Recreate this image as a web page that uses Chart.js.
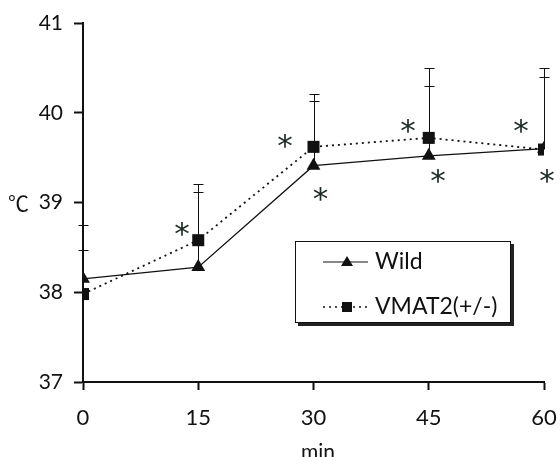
<!DOCTYPE html>
<html>
<head>
<meta charset="utf-8">
<script src="https://cdn.jsdelivr.net/npm/chart.js@4"></script>
<style>
html, body { margin: 0; padding: 0; background: #fff; }
#wrap { width: 560px; height: 457px; }
</style>
</head>
<body>
<div id="wrap"><canvas id="c"></canvas></div>
<script>
// values (body temperature, degC, vs minutes)
const minutes = [0, 15, 30, 45, 60];
const wild = [38.15, 38.28, 39.41, 39.52, 39.6];
const vmat2 = [37.98, 38.58, 39.62, 39.72, 39.59];
// upper ends of the error bars (mean + SD)
const wildTop = [38.75, 39.12, 40.13, 40.30, 40.40];
const vmat2Top = [38.47, 39.21, 40.21, 40.50, 40.50];
// significance marks
const starX = [12.9, 26.3, 30.9, 42.3, 46.2, 57.0, 60.4];
const starY = [38.71, 39.68, 39.10, 39.85, 39.29, 39.85, 39.29];
const xTicks = [0, 15, 30, 45, 60];
const yTicks = [37, 38, 39, 40, 41];

const FONT = 'Lato';

const errorBars = {
    id: 'errorBars',
    beforeDatasetsDraw(chart) {
        const { ctx, scales: { x, y } } = chart;
        ctx.save();
        ctx.strokeStyle = '#111';
        ctx.lineWidth = 1;
        [[wild, wildTop], [vmat2, vmat2Top]].forEach(([mean, top]) => {
            minutes.forEach((m, i) => {
                const px = Math.round(x.getPixelForValue(m)) + 0.5;
                const y0 = y.getPixelForValue(mean[i]);
                const y1 = Math.round(y.getPixelForValue(top[i])) + 0.5;
                ctx.beginPath();
                ctx.moveTo(px, y0);
                ctx.lineTo(px, y1);
                ctx.moveTo(px - 5, y1);
                ctx.lineTo(px + 5, y1);
                ctx.stroke();
            });
        });
        ctx.restore();
    },
};

const extras = {
    id: 'extras',
    afterDraw(chart) {
        const { ctx, scales: { x, y } } = chart;
        ctx.save();

        // asterisks
        ctx.fillStyle = '#1e2b24';
        ctx.font = '31px "DejaVu Sans"';
        ctx.textAlign = 'center';
        ctx.textBaseline = 'alphabetic';
        const m = ctx.measureText('*');
        const off = (m.actualBoundingBoxAscent - m.actualBoundingBoxDescent) / 2;
        starX.forEach((sx, i) => {
            ctx.fillText('*', x.getPixelForValue(sx), y.getPixelForValue(starY[i]) + off);
        });

        // axis titles
        ctx.fillStyle = '#111';
        ctx.font = '21px "Noto Sans CJK JP"';
        ctx.textAlign = 'left';
        ctx.textBaseline = 'middle';
        ctx.fillText('℃', 8, y.getPixelForValue(39) + 1);
        ctx.font = '21px ' + FONT;
        ctx.textAlign = 'center';
        ctx.textBaseline = 'alphabetic';
        ctx.fillText('min', 318, 459);

        // legend box with shadow
        const bx = 295, by = 241, bw = 216, bh = 82;
        ctx.fillStyle = '#222';
        ctx.fillRect(bx + 3, by + 3, bw, bh);
        ctx.fillStyle = '#fff';
        ctx.fillRect(bx, by, bw, bh);
        ctx.strokeStyle = '#111';
        ctx.lineWidth = 1;
        ctx.strokeRect(bx + 0.5, by + 0.5, bw - 1, bh - 1);

        const rows = [
            { label: 'Wild', y: 262, dash: [], shape: 'tri' },
            { label: 'VMAT2(+/-)', y: 307, dash: [2, 4], shape: 'sq' },
        ];
        rows.forEach(r => {
            ctx.strokeStyle = '#111';
            ctx.lineWidth = r.dash.length ? 1.6 : 1.2;
            ctx.setLineDash(r.dash);
            ctx.beginPath();
            ctx.moveTo(323, r.y);
            ctx.lineTo(368, r.y);
            ctx.stroke();
            ctx.setLineDash([]);
            ctx.fillStyle = '#111';
            ctx.beginPath();
            if (r.shape === 'tri') {
                ctx.moveTo(347, r.y - 6);
                ctx.lineTo(353, r.y + 4);
                ctx.lineTo(341, r.y + 4);
                ctx.closePath();
            } else {
                ctx.rect(342, r.y - 5, 10, 10);
            }
            ctx.fill();
            ctx.font = '23px ' + FONT;
            ctx.textAlign = 'left';
            ctx.textBaseline = 'middle';
            ctx.fillText(r.label, 375, r.y);
        });
        ctx.restore();
    },
};

new Chart(document.getElementById('c'), {
    type: 'line',
    data: {
        labels: minutes,
        datasets: [
            {
                label: 'Wild',
                data: minutes.map((m, i) => ({ x: m, y: wild[i] })),
                borderColor: '#111',
                borderWidth: 1.3,
                pointStyle: 'triangle',
                pointRadius: 8,
                pointBackgroundColor: '#111',
                pointBorderWidth: 0,
                tension: 0,
            },
            {
                label: 'VMAT2(+/-)',
                data: minutes.map((m, i) => ({ x: m, y: vmat2[i] })),
                borderColor: '#111',
                borderWidth: 1.8,
                borderDash: [2, 4],
                pointStyle: 'rect',
                pointRadius: 8.5,
                pointBackgroundColor: '#111',
                pointBorderWidth: 0,
                tension: 0,
            },
        ],
    },
    options: {
        responsive: true,
        maintainAspectRatio: false,
        animation: false,
        layout: { padding: { top: 23, right: 16, left: 0, bottom: 0 } },
        plugins: {
            legend: { display: false },
            tooltip: { enabled: false },
        },
        scales: {
            x: {
                type: 'linear',
                min: 0,
                max: 60,
                afterBuildTicks: s => { s.ticks = xTicks.map(v => ({ value: v })); },
                afterFit: s => { s.height = 75; s.paddingLeft = 0; s.paddingRight = 0; },
                border: { color: '#111', width: 2 },
                grid: { drawOnChartArea: false, tickLength: 8, color: '#111', tickWidth: 2 },
                ticks: { color: '#111', padding: 15, font: { family: FONT, size: 22 } },
            },
            y: {
                min: 37,
                max: 41,
                afterBuildTicks: s => { s.ticks = yTicks.map(v => ({ value: v })); },
                afterFit: s => { s.width = 83; s.paddingTop = 0; s.paddingBottom = 0; },
                border: { color: '#111', width: 2 },
                grid: { drawOnChartArea: false, tickLength: 9, color: '#111', tickWidth: 2 },
                ticks: { color: '#111', padding: 11, font: { family: FONT, size: 21 } },
            },
        },
    },
    plugins: [errorBars, extras],
});
</script>
</body>
</html>
